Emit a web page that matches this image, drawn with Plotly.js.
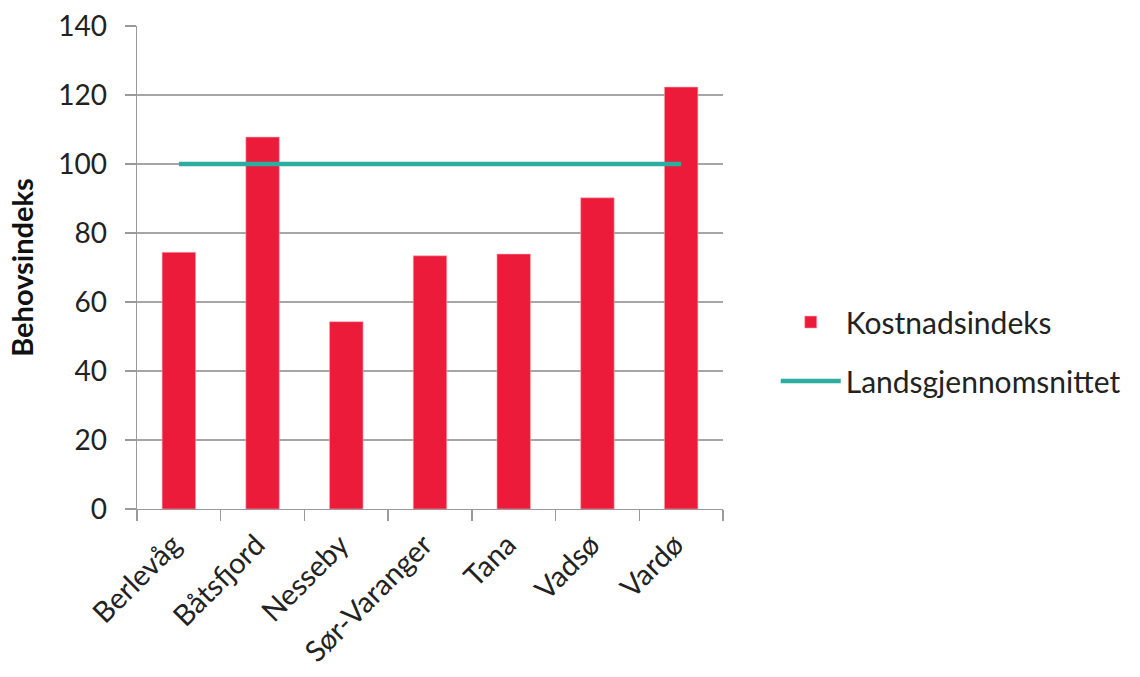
<!DOCTYPE html>
<html>
<head>
<meta charset="utf-8">
<script src="https://cdn.plot.ly/plotly-3.0.1.min.js"></script>
<style>html,body{margin:0;padding:0;background:#fff;}#chart{width:1140px;height:677px;}</style>
</head>
<body>
<div id="chart"></div>
<script>
const categories = ["Berlevåg", "Båtsfjord", "Nesseby", "Sør-Varanger", "Tana", "Vadsø", "Vardø"];
const kostnadsindeks = [74.4, 107.8, 54.3, 73.4, 73.9, 90.2, 122.3];
const landsgjennomsnittet = [100, 100, 100, 100, 100, 100, 100];
const yTicks = [0, 20, 40, 60, 80, 100, 120, 140];

const FONT = "Lato, 'Open Sans', sans-serif";

const traces = [
  {
    type: "bar",
    name: "Kostnadsindeks",
    x: categories,
    y: kostnadsindeks,
    marker: {color: "#ED1B3A", line: {color: "#F7A9B5", width: 0.6}},
    legend: "legend"
  },
  {
    type: "scatter",
    mode: "lines",
    name: "Landsgjennomsnittet",
    x: categories,
    y: landsgjennomsnittet,
    line: {color: "#2BADA0", width: 4.5},
    legend: "legend2"
  }
];

const layout = {
  width: 1140,
  height: 677,
  margin: {l: 136.5, r: 417, t: 26, b: 168},
  paper_bgcolor: "#fff",
  plot_bgcolor: "#fff",
  font: {family: FONT, size: 27, color: "#222"},
  bargap: 0.6,
  showlegend: true,
  xaxis: {
    type: "category",
    tickangle: -45,
    tickson: "boundaries",
    ticks: "outside",
    ticklen: 11,
    tickcolor: "#9a9a9a",
    tickwidth: 1.3,
    ticklabelshift: -6,
    ticklabelstandoff: 6,
    showline: true,
    linecolor: "#9a9a9a",
    linewidth: 1.3,
    showgrid: false,
    tickfont: {family: FONT, size: 29, color: "#222"}
  },
  yaxis: {
    range: [0, 140],
    tickvals: yTicks,
    ticks: "outside",
    ticklen: 11,
    tickcolor: "#9a9a9a",
    tickwidth: 1.3,
    ticklabelstandoff: 12,
    showline: true,
    linecolor: "#9a9a9a",
    linewidth: 1.3,
    showgrid: true,
    gridcolor: "#a6a6a6",
    gridwidth: 1.3,
    zeroline: false,
    tickfont: {family: FONT, size: 28, color: "#222"},
    title: {text: "<b>Behovsindeks</b>", font: {family: FONT, size: 29, color: "#111"}, standoff: 16}
  },
  legend: {
    x: 1.09, xanchor: "left", y: 0.387, yanchor: "middle",
    font: {family: FONT, size: 30, color: "#222"},
    itemwidth: 60, bgcolor: "rgba(0,0,0,0)"
  },
  legend2: {
    x: 1.09, xanchor: "left", y: 0.265, yanchor: "middle",
    font: {family: FONT, size: 30, color: "#222"},
    itemwidth: 60, bgcolor: "rgba(0,0,0,0)"
  }
};

Plotly.newPlot("chart", traces, layout, {displayModeBar: false, staticPlot: true});
</script>
</body>
</html>
